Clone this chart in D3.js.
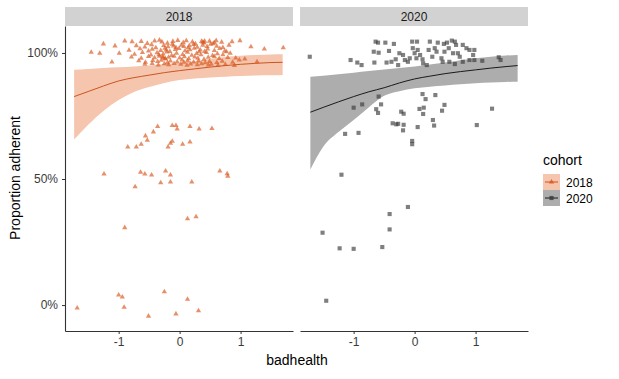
<!DOCTYPE html>
<html>
<head>
<meta charset="utf-8">
<script src="https://cdn.jsdelivr.net/npm/d3@7"></script>
<style>
  body { margin: 0; background: white; }
  text { font-family: "Liberation Sans", Arial, sans-serif; }
</style>
</head>
<body>
<div id="main"></div>
<script>
// ---- data ----
const cohorts = ["2018", "2020"];
const xTicks = [-1, 0, 1];
const yTicks = [0, 0.5, 1];

// fitted curve + confidence band
const grid2018  = [-1.73, -1.5, -1.25, -1.0, -0.75, -0.5, -0.25, 0, 0.25, 0.5, 0.75, 1.0, 1.25, 1.5, 1.69];
const fit2018   = [0.827, 0.847, 0.869, 0.889, 0.902, 0.912, 0.922, 0.930, 0.937, 0.944, 0.950, 0.955, 0.959, 0.962, 0.963];
const lower2018 = [0.657, 0.715, 0.770, 0.813, 0.845, 0.865, 0.881, 0.893, 0.899, 0.903, 0.906, 0.909, 0.911, 0.912, 0.913];
const upper2018 = [0.933, 0.936, 0.940, 0.943, 0.946, 0.950, 0.956, 0.961, 0.967, 0.977, 0.984, 0.989, 0.992, 0.994, 0.995];

const grid2020  = [-1.71, -1.5, -1.25, -1.0, -0.75, -0.5, -0.25, 0, 0.25, 0.5, 0.75, 1.0, 1.25, 1.5, 1.69];
const fit2020   = [0.765, 0.784, 0.806, 0.827, 0.846, 0.862, 0.881, 0.897, 0.908, 0.918, 0.926, 0.933, 0.940, 0.946, 0.950];
const lower2020 = [0.538, 0.628, 0.686, 0.734, 0.785, 0.830, 0.848, 0.860, 0.866, 0.871, 0.876, 0.880, 0.883, 0.885, 0.886];
const upper2020 = [0.906, 0.910, 0.916, 0.922, 0.928, 0.934, 0.940, 0.946, 0.954, 0.962, 0.971, 0.979, 0.985, 0.990, 0.992];

// observed points [badhealth, proportion]
const points2018 = [
  [-1.45, 1.003], [-1.31, 0.999], [-1.25, 1.036], [-1.11, 0.964], [-1.06, 1.028], [-0.90, 1.048],
  [-0.78, 1.045], [-0.99, 0.999], [1.70, 1.021], [1.39, 1.016], [1.27, 0.965], [1.07, 0.976],
  [1.17, 1.025], [0.99, 1.049], [0.86, 1.045], [0.77, 1.005], [0.98, 0.972],
  [-0.63, 1.046], [-0.53, 1.038], [-0.41, 1.048], [-0.33, 1.051], [-0.29, 1.044], [-0.20, 1.039],
  [-0.11, 1.046], [-0.03, 1.050], [0.06, 1.041], [0.11, 1.049], [0.21, 1.044], [0.26, 1.036],
  [0.36, 1.046], [0.40, 1.040], [0.49, 1.047], [0.57, 1.041], [0.60, 1.049], [0.69, 1.043],
  [-0.71, 1.029], [-0.57, 1.024], [-0.46, 1.033], [-0.39, 1.021], [-0.26, 1.030], [-0.19, 1.025],
  [-0.12, 1.035], [-0.06, 1.022], [0.03, 1.031], [0.07, 1.026], [0.16, 1.029], [0.23, 1.034],
  [0.29, 1.023], [0.38, 1.031], [0.45, 1.026], [0.51, 1.035], [0.61, 1.027], [0.71, 1.022], [0.81, 1.031],
  [-0.83, 1.011], [-0.65, 1.017], [-0.51, 1.008], [-0.45, 1.015], [-0.31, 1.010], [-0.24, 1.019],
  [-0.16, 1.006], [-0.07, 1.014], [-0.01, 1.018], [0.09, 1.009], [0.17, 1.013], [0.24, 1.019],
  [0.34, 1.012], [0.41, 1.006], [0.46, 1.016], [0.57, 1.010], [0.66, 1.018], [0.74, 1.008],
  [-0.74, 0.995], [-0.61, 1.002], [-0.47, 0.992], [-0.37, 1.001], [-0.27, 0.996], [-0.21, 1.004],
  [-0.13, 0.990], [-0.05, 0.999], [0.05, 0.994], [0.13, 1.003], [0.20, 0.991], [0.28, 0.998],
  [0.35, 0.993], [0.44, 1.002], [0.54, 0.990], [0.62, 0.997], [0.71, 0.993], [0.83, 0.999],
  [-0.79, 0.984], [-0.63, 0.979], [-0.51, 0.986], [-0.41, 0.981], [-0.33, 0.987], [-0.23, 0.976],
  [-0.18, 0.983], [-0.09, 0.987], [0.00, 0.980], [0.08, 0.985], [0.15, 0.977], [0.25, 0.984],
  [0.30, 0.979], [0.40, 0.975], [0.47, 0.983], [0.57, 0.986], [0.65, 0.978], [0.79, 0.982], [0.92, 0.980],
  [-0.67, 0.969], [-0.56, 0.963], [-0.44, 0.970], [-0.36, 0.966], [-0.30, 0.971], [-0.20, 0.962],
  [-0.15, 0.968], [-0.04, 0.965], [0.07, 0.963], [0.13, 0.969], [0.23, 0.964], [0.31, 0.968],
  [0.42, 0.961], [0.49, 0.966], [0.61, 0.962], [0.70, 0.967], [0.87, 0.963],
  [-0.57, 0.955], [-0.45, 0.958], [-0.35, 0.952], [-0.25, 0.957], [-0.18, 0.953], [-0.09, 0.958],
  [0.02, 0.955], [0.12, 0.951], [0.18, 0.956], [0.29, 0.953], [0.36, 0.957], [0.47, 0.952],
  [0.52, 0.955], [0.63, 0.951], [0.75, 0.954], [0.90, 0.950],
  [-0.27, 0.981], [-0.24, 0.978], [-0.28, 0.985], [0.38, 1.043], [0.41, 1.047], [0.55, 1.037],
  [-0.34, 0.993], [-0.10, 1.028], [0.14, 1.021], [0.32, 1.005], [-0.22, 1.012], [0.04, 0.972],
  [-0.36, 0.708], [-0.12, 0.712], [-0.06, 0.712], [-0.04, 0.698], [0.17, 0.708], [0.32, 0.698],
  [0.53, 0.700], [-0.43, 0.687], [-0.56, 0.671], [-0.53, 0.654], [-0.63, 0.638], [-0.71, 0.627],
  [-0.85, 0.627], [-0.12, 0.650], [-0.15, 0.642], [-0.19, 0.627], [0.05, 0.638], [0.17, 0.647],
  [-1.24, 0.520], [-0.64, 0.527], [-0.57, 0.520], [-0.46, 0.516], [-0.23, 0.532], [-0.15, 0.516],
  [0.66, 0.532], [0.78, 0.521], [0.79, 0.511], [-0.73, 0.469], [-0.31, 0.485], [-0.15, 0.488],
  [0.20, 0.488], [0.13, 0.342], [0.27, 0.350], [-0.90, 0.307],
  [-1.00, 0.040], [-0.94, 0.032], [-0.25, 0.053], [0.13, 0.023], [-1.68, -0.012], [-0.91, -0.009],
  [-0.51, -0.044], [-0.06, -0.035], [0.31, -0.023]
];

const points2020 = [
  [-1.72, 0.985], [-1.05, 0.972], [-0.94, 0.962], [-0.87, 0.952], [-0.66, 0.962], [-0.67, 1.005],
  [-0.59, 1.001], [-0.64, 1.045], [-0.60, 1.041], [-0.48, 1.041], [-0.34, 1.036], [-0.42, 1.008],
  [-0.46, 0.962], [-0.38, 0.965], [-0.31, 0.975], [-0.27, 0.952], [-0.25, 0.999], [-0.19, 0.992],
  [-0.16, 0.972], [-0.11, 0.965], [-0.08, 0.979], [-0.04, 1.045], [0.04, 1.045], [-0.03, 1.019],
  [0.05, 1.012], [0.00, 0.999], [0.09, 0.992], [0.03, 0.979], [0.13, 0.975], [0.14, 0.959],
  [0.20, 0.952], [0.25, 1.045], [0.23, 1.012], [0.33, 1.019], [0.36, 1.005], [0.29, 0.985],
  [0.38, 1.041], [0.48, 1.036], [0.53, 1.041], [0.61, 1.049], [0.66, 1.045], [0.68, 1.032],
  [0.56, 1.019], [0.49, 1.005], [0.63, 0.999], [0.71, 0.999], [0.79, 1.032], [0.85, 1.019],
  [0.90, 1.012], [0.96, 0.992], [0.98, 1.012], [0.46, 0.965], [0.57, 0.965], [0.66, 0.956],
  [0.79, 0.965], [0.90, 0.972], [0.98, 0.972], [1.11, 0.969], [1.38, 0.983], [1.41, 0.972],
  [0.44, 0.979], [0.74, 0.985],
  [-0.59, 0.827], [-1.00, 0.783], [-0.86, 0.796], [-0.63, 0.777], [-0.60, 0.762], [-0.55, 0.796],
  [-0.22, 0.767], [-0.18, 0.759], [0.13, 0.837], [0.18, 0.817], [0.34, 0.833], [0.08, 0.778],
  [0.15, 0.783], [0.14, 0.758], [0.49, 0.794], [0.45, 0.771], [0.30, 0.734], [0.32, 0.712],
  [0.05, 0.706], [-0.36, 0.721], [-0.30, 0.717], [-0.27, 0.719], [-0.18, 0.715], [-0.19, 0.693],
  [-0.04, 0.651], [-0.04, 0.638], [-1.14, 0.679], [-0.92, 0.683], [1.02, 0.714], [1.27, 0.779],
  [-1.20, 0.517], [-0.11, 0.389], [-0.41, 0.361], [-0.41, 0.300], [-0.53, 0.230], [-1.00, 0.223],
  [-1.23, 0.225], [-1.51, 0.287], [-1.45, 0.017]
];

const ctx = {
    width : 619,
    height : 379,
    panelTop : 26,
    panelBottom : 331,
    panelLeft : [65, 300],
    panelWidth : 228,
    stripHeight : 19,
    axisColor : "#333333",
    textColor : "#3a3a3a",
    stripFill : "#d2d2d2",
    colors : {
        "2018" : { point : "#d9541a", line : "#cc5520", band : "#f5c5ad", symbol : d3.symbolTriangle, size : 12, alpha : 0.65 },
        "2020" : { point : "#3a3a3a", line : "#1a1a1a", band : "#adadad", symbol : d3.symbolSquare, size : 17, alpha : 0.65 }
    }
};

const series = {
    "2018" : { grid : grid2018, fit : fit2018, lower : lower2018, upper : upper2018, points : points2018 },
    "2020" : { grid : grid2020, fit : fit2020, lower : lower2020, upper : upper2020, points : points2020 }
};

function createViz(){
    let svg = d3.select("#main").append("svg")
        .attr("width", ctx.width)
        .attr("height", ctx.height);
    svg.append("rect")
        .attr("width", ctx.width)
        .attr("height", ctx.height)
        .attr("fill", "white");

    ctx.y = d3.scaleLinear()
        .domain([-0.103, 1.107])
        .range([ctx.panelBottom, ctx.panelTop]);

    cohorts.forEach((c, i) => drawPanel(svg, c, i));
    drawYAxis(svg);
    drawLegend(svg);

    svg.append("text")
        .attr("x", 297)
        .attr("y", 365)
        .attr("text-anchor", "middle")
        .attr("font-size", "14px")
        .attr("fill", "black")
        .text("badhealth");
    svg.append("text")
        .attr("transform", "translate(20, 178) rotate(-90)")
        .attr("text-anchor", "middle")
        .attr("font-size", "14px")
        .attr("fill", "black")
        .text("Proportion adherent");
}

function styleAxis(axis){
    axis.select(".domain").attr("stroke", ctx.axisColor).attr("stroke-width", 1.1);
    axis.selectAll(".tick line").attr("stroke", ctx.axisColor);
    axis.selectAll(".tick text")
        .attr("font-size", "12px")
        .attr("fill", ctx.textColor)
        .attr("font-family", "Liberation Sans, Arial, sans-serif");
}

function drawPanel(svg, cohort, i){
    let left = ctx.panelLeft[i];
    let x = d3.scaleLinear()
        .domain([-1.88, 1.86])
        .range([left, left + ctx.panelWidth]);
    let y = ctx.y;
    let s = series[cohort];
    let col = ctx.colors[cohort];
    let g = svg.append("g").attr("id", "panel" + cohort);

    // strip
    g.append("rect")
        .attr("x", left)
        .attr("y", ctx.panelTop - ctx.stripHeight)
        .attr("width", ctx.panelWidth)
        .attr("height", ctx.stripHeight)
        .attr("fill", ctx.stripFill);
    g.append("text")
        .attr("x", left + ctx.panelWidth / 2)
        .attr("y", ctx.panelTop - 5)
        .attr("text-anchor", "middle")
        .attr("font-size", "12px")
        .attr("fill", "#1a1a1a")
        .text(cohort);

    // band
    let band = s.grid.map((v, k) => ({ x : v, lo : s.lower[k], hi : s.upper[k], fit : s.fit[k] }));
    g.append("path")
        .datum(band)
        .attr("fill", col.band)
        .attr("d", d3.area()
            .x(d => x(d.x))
            .y0(d => y(d.lo))
            .y1(d => y(d.hi))
            .curve(d3.curveMonotoneX));

    // points
    g.selectAll("path.pt")
        .data(s.points)
        .enter()
        .append("path")
        .attr("class", "pt")
        .attr("transform", d => "translate(" + x(d[0]) + "," + y(d[1]) + ")")
        .attr("d", d3.symbol().type(col.symbol).size(col.size))
        .attr("fill", col.point)
        .attr("fill-opacity", col.alpha);

    // fitted line
    g.append("path")
        .datum(band)
        .attr("fill", "none")
        .attr("stroke", col.line)
        .attr("stroke-width", 1)
        .attr("d", d3.line()
            .x(d => x(d.x))
            .y(d => y(d.fit))
            .curve(d3.curveMonotoneX));

    // x axis
    let axis = g.append("g")
        .attr("transform", "translate(0," + ctx.panelBottom + ")")
        .call(d3.axisBottom(x).tickValues(xTicks).tickFormat(d => String(d)).tickSize(3).tickPadding(3).tickSizeOuter(0));
    styleAxis(axis);
}

function drawYAxis(svg){
    let axis = svg.append("g")
        .attr("transform", "translate(" + ctx.panelLeft[0] + ",0)")
        .call(d3.axisLeft(ctx.y).tickValues(yTicks).tickFormat(d3.format(".0%")).tickSize(3).tickPadding(4).tickSizeOuter(0));
    styleAxis(axis);
}

function drawLegend(svg){
    let lg = svg.append("g").attr("id", "legend").attr("transform", "translate(543, 0)");
    lg.append("text")
        .attr("x", 0)
        .attr("y", 165)
        .attr("font-size", "14px")
        .attr("fill", "black")
        .text("cohort");
    cohorts.forEach((c, i) => {
        let col = ctx.colors[c];
        let top = 174 + i * 16;
        lg.append("rect")
            .attr("x", 0)
            .attr("y", top)
            .attr("width", 17)
            .attr("height", 16)
            .attr("fill", col.band);
        lg.append("line")
            .attr("x1", 2)
            .attr("x2", 15)
            .attr("y1", top + 8)
            .attr("y2", top + 8)
            .attr("stroke", col.line);
        lg.append("path")
            .attr("transform", "translate(8.5," + (top + 8) + ")")
            .attr("d", d3.symbol().type(col.symbol).size(col.size))
            .attr("fill", col.point)
            .attr("fill-opacity", 0.8);
        lg.append("text")
            .attr("x", 23)
            .attr("y", top + 12.5)
            .attr("font-size", "12px")
            .attr("fill", "black")
            .text(c);
    });
}

createViz();
</script>
</body>
</html>
